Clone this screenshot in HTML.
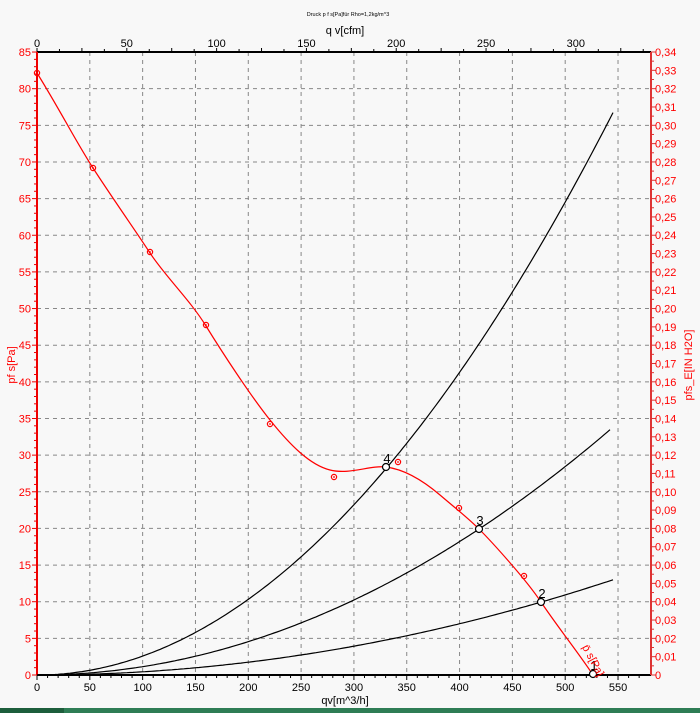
<!DOCTYPE html>
<html><head><meta charset="utf-8"><style>
body{margin:0;background:#f8f8f8;}
svg{display:block;font-family:"Liberation Sans",sans-serif;}
</style></head><body>
<svg id="s" width="700" height="713" xmlns="http://www.w3.org/2000/svg">
<rect width="700" height="713" fill="#f8f8f8"/>
<rect x="0" y="708" width="700" height="5" fill="#2e7d55"/>
<rect x="0" y="708" width="64" height="5" fill="#1d5e3c"/>
<g id="g"></g>
</svg>
<script>
const NS="http://www.w3.org/2000/svg",g=document.getElementById('g');
function el(t,a,txt){const e=document.createElementNS(NS,t);for(const k in a)e.setAttribute(k,a[k]);if(txt!==undefined)e.textContent=txt;g.appendChild(e);return e;}
const L=37,R=651,T=52,B=675;
const X=q=>L+q*1.0564, Y=p=>B-p*7.329;
// grid
for(let q=50;q<=550;q+=50)el('line',{x1:X(q),x2:X(q),y1:T,y2:B,stroke:'#888','stroke-dasharray':'4,4','stroke-width':1});
for(let p=5;p<=80;p+=5)el('line',{x1:L,x2:R,y1:Y(p),y2:Y(p),stroke:'#888','stroke-dasharray':'4,4','stroke-width':1});
// axes
el('line',{x1:L,x2:R,y1:T,y2:T,stroke:'#000','stroke-width':2});
el('line',{x1:L,x2:R,y1:B,y2:B,stroke:'#000','stroke-width':2});
el('line',{x1:L,x2:L,y1:T,y2:B,stroke:'#e00','stroke-width':2});
el('line',{x1:R,x2:R,y1:T,y2:B,stroke:'#d33','stroke-width':2});
// bottom ticks
for(let q=0;q<=575;q+=10){el('line',{x1:X(q),x2:X(q),y1:B,y2:B+(q%50==0?5:3),stroke:'#000'});}
for(let q=0;q<=550;q+=50)el('text',{x:X(q),y:691,'font-size':11,'text-anchor':'middle',fill:'#000'},q);
el('text',{x:345,y:704,'font-size':11,'text-anchor':'middle'},'qv[m^3/h]');
// top ticks cfm
for(let c=0;c<=340;c+=12.5){const x=L+c*1.7962;if(x>R)break;el('line',{x1:x,x2:x,y1:T,y2:T-(c%25==0?4:3),stroke:'#000'});}
for(let c=0;c<=300;c+=50)el('text',{x:L+c*1.7962,y:47,'font-size':11,'text-anchor':'middle'},c);
el('text',{x:345,y:34,'font-size':11,'text-anchor':'middle'},'q v[cfm]');
el('text',{x:348,y:16,'font-size':5.5,'text-anchor':'middle'},'Druck p f s[Pa]für Rho=1,2kg/m^3');
// left ticks
for(let p=0;p<=85;p+=1)el('line',{x1:L,x2:L-(p%5==0?5:3),y1:Y(p),y2:Y(p),stroke:'#e00'});
for(let p=0;p<=85;p+=5)el('text',{x:31,y:Y(p)+4,'font-size':11,'text-anchor':'end',fill:'#f00'},p);
el('text',{x:15,y:365,'font-size':11,'text-anchor':'middle',fill:'#f00',transform:'rotate(-90 15 365)'},'pf s[Pa]');
// right ticks
const RY=v=>B-v/0.34*(B-T);
for(let i=0;i<=68;i++){const v=i*0.005;el('line',{x1:R,x2:R+(i%2==0?5:3),y1:RY(v),y2:RY(v),stroke:'#d33'});}
for(let i=0;i<=34;i++){const v=i/100;el('text',{x:655,y:RY(v)+4,'font-size':11,fill:'#f00'},i==0?'0':'0,'+String(i).padStart(2,'0'));}
el('text',{x:692,y:365,'font-size':11,'text-anchor':'middle',fill:'#f00',transform:'rotate(-90 692 365)'},'pfs_E[IN H2O]');
// system curves
function par(a,xe){let d='';for(let x=L;x<=xe;x+=3){d+=(d?'L':'M')+x+','+(B-a*(x-L)*(x-L)).toFixed(1);}return d;}
el('path',{d:par(0.001695,613),fill:'none',stroke:'#000','stroke-width':1.2});
el('path',{d:par(0.000747,612),fill:'none',stroke:'#000','stroke-width':1.2});
el('path',{d:par(0.000287,613),fill:'none',stroke:'#000','stroke-width':1.2});
// red curve
el('path',{d:'M37,73 C60,110 75,140 93,168 S135,230 150,253 S190,300 206,326 S250,395 270,420 S310,465 330,470 S370,465 386,467 S420,478 440,495 S468,518 479,529 S525,578 541,602 S580,655 593,675',fill:'none',stroke:'#f00','stroke-width':1.2});
[[37,73],[93,168],[150,252],[206,325],[270,424],[334,477],[398,462],[459,508],[524,576]].forEach(p=>{el('circle',{cx:p[0],cy:p[1],r:2.6,fill:'none',stroke:'#f00','stroke-width':1.2});el('circle',{cx:p[0],cy:p[1],r:0.9,fill:'#f00'});});
// op points
[[386,467,'4'],[479,529,'3'],[541,602,'2'],[593,674,'1']].forEach(p=>{el('circle',{cx:p[0],cy:p[1],r:3.5,fill:'#fff',stroke:'#000','stroke-width':1.2});el('text',{x:p[0]+1,y:p[1]-4,'font-size':13,'text-anchor':'middle'},p[2]);});
el('text',{x:582,y:647,'font-size':11,fill:'#f00',transform:'rotate(62 582 647)'},'p̄ s[Pa]');
</script>
</body></html>
